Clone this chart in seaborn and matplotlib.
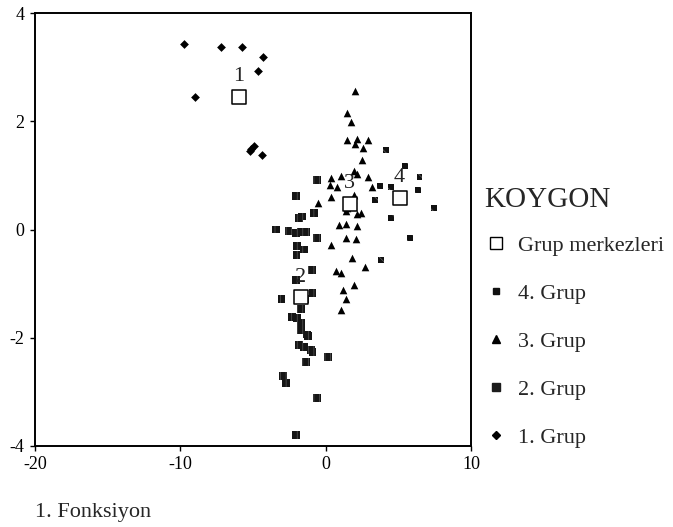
import seaborn as sns
import pandas as pd

from matplotlib import pyplot as plt
from matplotlib.lines import Line2D


# 1. Grup (diamonds)
g1_x = [-9.78, -7.22, -5.79, -4.33, -4.67, -9.00, -5.15, -4.93, -5.22, -4.40]
g1_y = [3.42, 3.38, 3.38, 3.19, 2.92, 2.44, 1.49, 1.55, 1.45, 1.37]

# 2. Grup (rounded squares)
g2_x = [-0.62, -2.03, -0.82, -1.65, -1.82, -3.44, -2.56, -2.04, -1.72, -1.37,
        -0.60, -1.99, -1.49, -2.01, -0.93, -2.04, -0.91, -3.04, -1.44, -1.72,
        -2.29, -1.95, -1.68, -1.72, -1.27, -1.20, -1.84, -1.49, -1.03, -0.91,
        0.17, -1.37, -2.94, -2.71, -0.62, -2.04]
g2_y = [0.91, 0.62, 0.30, 0.24, 0.22, 0.00, -0.02, -0.06, -0.05, -0.04,
        -0.15, -0.31, -0.37, -0.47, -0.75, -0.94, -1.18, -1.29, -1.29, -1.47,
        -1.61, -1.64, -1.72, -1.86, -1.94, -1.97, -2.14, -2.17, -2.23, -2.26,
        -2.36, -2.45, -2.70, -2.84, -3.11, -3.80]

# 3. Grup (triangles)
g3_x = [2.02, 1.49, 1.72, 1.49, 2.13, 1.99, 2.93, 2.59, 2.47, 1.95,
        2.18, 1.08, 0.34, 2.93, 0.30, 0.80, 3.16, 1.95, 1.90, 0.39,
        -0.50, 1.37, 1.49, 2.18, 2.41, 0.91, 1.37, 2.13, 1.37, 2.06,
        0.39, 1.83, 2.70, 0.69, 1.08, 1.95, 1.17, 1.37, 1.07]
g3_y = [2.55, 2.15, 1.98, 1.65, 1.67, 1.58, 1.66, 1.51, 1.29, 1.09,
        1.03, 0.98, 0.95, 0.97, 0.82, 0.78, 0.78, 0.63, 0.57, 0.60,
        0.49, 0.35, 0.40, 0.28, 0.30, 0.09, 0.11, 0.06, -0.16, -0.18,
        -0.29, -0.53, -0.69, -0.77, -0.80, -1.03, -1.12, -1.28, -1.49]

# 4. Grup (small squares)
g4_x = [4.17, 5.48, 6.46, 3.73, 4.49, 6.34, 4.93, 3.37, 7.44, 4.47, 5.79, 3.78]
g4_y = [1.47, 1.18, 0.97, 0.80, 0.78, 0.73, 0.59, 0.54, 0.40, 0.22, -0.16, -0.56]

# Grup merkezleri
cent_x = [-5.96, -1.72, 1.65, 5.09]
cent_y = [2.45, -1.25, 0.47, 0.58]
cent_labels = ['1', '2', '3', '4']

groups = ['1. Grup', '2. Grup', '3. Grup', '4. Grup']

df = pd.concat([
    pd.DataFrame({'x': g1_x, 'y': g1_y, 'grup': groups[0]}),
    pd.DataFrame({'x': g2_x, 'y': g2_y, 'grup': groups[1]}),
    pd.DataFrame({'x': g3_x, 'y': g3_y, 'grup': groups[2]}),
    pd.DataFrame({'x': g4_x, 'y': g4_y, 'grup': groups[3]}),
])

sns.set_style('white')
plt.rcParams['font.family'] = ['Liberation Serif', 'DejaVu Serif']
plt.rcParams['axes.unicode_minus'] = False
plt.rcParams['hatch.linewidth'] = 0.5

fig = plt.figure(figsize=(6.73, 5.27), dpi=100)
ax = fig.add_axes([35 / 673, 1 - 446 / 527, 436 / 673, 433 / 527])

styles = {
    '1. Grup': dict(marker='D', s=20, color='black', linewidth=0),
    '2. Grup': dict(marker='s', s=32, color='#151515', edgecolor='#5a5a5a', linewidth=0, hatch='|||'),
    '3. Grup': dict(marker='^', s=30, color='black', linewidth=0),
    '4. Grup': dict(marker='s', s=18, color='#111111', edgecolor='#666666', linewidth=0, hatch='\\\\\\'),
}
for g in groups:
    sns.scatterplot(data=df[df['grup'] == g], x='x', y='y', ax=ax, legend=False, **styles[g])

# group centroids
sns.scatterplot(x=cent_x, y=cent_y, ax=ax, marker='s', s=95, color='white',
                edgecolor='black', linewidth=1.1, legend=False, zorder=5)
for lab, cx, cy in zip(cent_labels, cent_x, cent_y):
    ax.annotate(lab, (cx, cy), xytext=(0, 14.5), textcoords='offset points',
                ha='center', va='center', fontsize=16, color='#222222')

ax.set_xlim(-20, 10)
ax.set_ylim(-4, 4)
ax.set_xticks([-20, -10, 0, 10])
ax.set_yticks([-4, -2, 0, 2, 4])
ax.set_xlabel('')
ax.set_ylabel('')
ax.tick_params(axis='both', direction='out', length=3.5, width=1, labelsize=13,
               colors='black', left=True, bottom=True, pad=4)
for sp in ax.spines.values():
    sp.set_color('black')
    sp.set_linewidth(1.4)

handles = [
    Line2D([], [], ls='', marker='s', ms=8.5, mfc='white', mec='black', mew=1),
    Line2D([], [], ls='', marker='s', ms=4.2, mfc='#111111', mec='#111111'),
    Line2D([], [], ls='', marker='^', ms=5.2, mfc='black', mec='black'),
    Line2D([], [], ls='', marker='s', ms=5.2, mfc='#1c1c1c', mec='#1c1c1c'),
    Line2D([], [], ls='', marker='D', ms=4.2, mfc='black', mec='black'),
]
labels = ['Grup merkezleri', '4. Grup', '3. Grup', '2. Grup', '1. Grup']
fig.text(484 / 673, 1 - 200 / 527, 'KOYGON', fontsize=21, ha='left', va='center')
fig.legend(handles, labels, loc='upper left',
           bbox_to_anchor=(469 / 673, 1 - 220 / 527), frameon=False,
           fontsize=16, handlelength=1.0, handletextpad=0.5, labelspacing=1.23,
           borderpad=0.2)

fig.text(35 / 673, 1 - 513 / 527, '1. Fonksiyon', fontsize=16, ha='left', va='center')

fig.savefig('out.png', dpi=100)
